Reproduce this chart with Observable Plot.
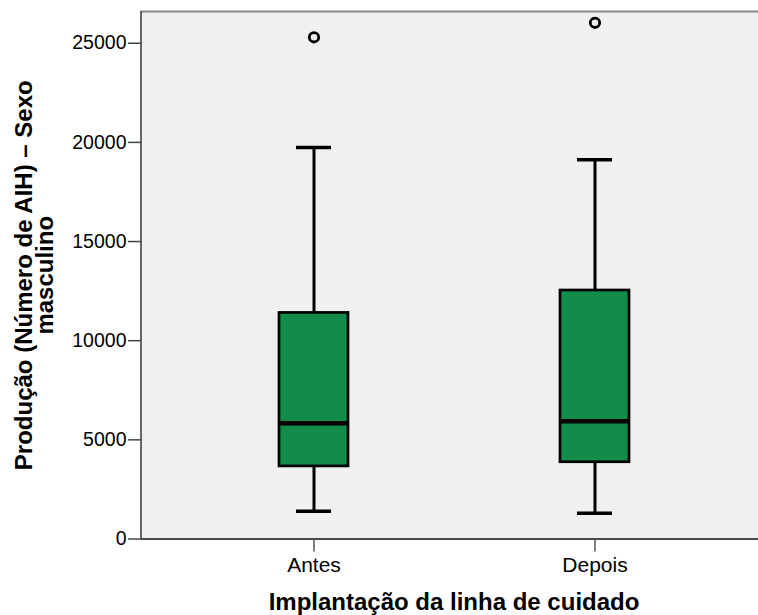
<!DOCTYPE html>
<html>
<head>
<meta charset="utf-8">
<script src="https://cdn.jsdelivr.net/npm/d3@7"></script>
<script src="https://cdn.jsdelivr.net/npm/@observablehq/plot@0.6"></script>
<style>
  html, body { margin: 0; padding: 0; background: #fff; overflow: hidden; }
  #chart svg { display: block; }
</style>
</head>
<body>
<div id="chart"></div>
<script>
// ---- data ----
const groups = ["Antes", "Depois"];
const lowerWhisker = [1400, 1300];
const q1 = [3660, 3870];
const median = [5840, 5940];
const q3 = [11400, 12530];
const upperWhisker = [19740, 19120];
const outlierGroup = ["Antes", "Depois"];
const outlierValue = [25300, 26030];
const yTicks = [0, 5000, 10000, 15000, 20000, 25000];
const yMax = 26600;
const xTitle = "Implantação da linha de cuidado";
const yTitle = "Produção (Número de AIH) – Sexo\nmasculino";

const boxes = groups.map((g, i) => ({
  group: g, lo: lowerWhisker[i], q1: q1[i], med: median[i], q3: q3[i], hi: upperWhisker[i]
}));
const outliers = outlierGroup.map((g, i) => ({group: g, value: outlierValue[i]}));

const font = "'Liberation Sans', Arial, Helvetica, sans-serif";
const green = "#118c4b";
const W = 758, mL = 141;

const chart = Plot.plot({
  width: W,
  height: 615,
  marginTop: 11,
  marginLeft: mL,
  marginRight: 0,
  marginBottom: 76.5,
  style: {background: "#ffffff", fontFamily: font, color: "#000"},
  x: {type: "band", domain: groups, range: [279, 629.3], paddingInner: 0.7547, paddingOuter: 0, axis: null},
  y: {domain: [0, yMax], axis: null},
  marks: [
    Plot.frame({fill: "#f0f0f0", stroke: "none"}),
    // top border, bottom axis line, left axis line
    Plot.ruleY([yMax], {stroke: "#8a8a8a", strokeWidth: 2.2}),
    Plot.ruleY([0], {stroke: "#4a4a4a", strokeWidth: 2}),
    Plot.rect([0], {y1: 0, y2: yMax, fill: "#444", insetLeft: -0.8, insetRight: (W - mL) - 0.8}),
    Plot.axisY({ticks: yTicks, tickSize: 13, tickPadding: 2, fontSize: 19.5, stroke: "#444", strokeWidth: 1.5, fill: "#000", tickFormat: d => String(d), label: null}),
    Plot.axisX({tickSize: 13, tickPadding: 5, fontSize: 21, stroke: "#555", strokeWidth: 1.5, fill: "#000", label: null}),
    // whiskers
    Plot.ruleX(boxes, {x: "group", y1: "q3", y2: "hi", stroke: "#000", strokeWidth: 3}),
    Plot.ruleX(boxes, {x: "group", y1: "lo", y2: "q1", stroke: "#000", strokeWidth: 3}),
    Plot.tickY(boxes, {x: "group", y: "hi", stroke: "#000", strokeWidth: 3.5, insetLeft: 17, insetRight: 17}),
    Plot.tickY(boxes, {x: "group", y: "lo", stroke: "#000", strokeWidth: 3.5, insetLeft: 17, insetRight: 17}),
    // boxes
    Plot.barY(boxes, {x: "group", y1: "q1", y2: "q3", fill: green, stroke: "#000", strokeWidth: 2.7}),
    Plot.tickY(boxes, {x: "group", y: "med", stroke: "#000", strokeWidth: 4.5}),
    // outliers
    Plot.dot(outliers, {x: "group", y: "value", r: 4.7, stroke: "#000", strokeWidth: 2.8, fill: "none"}),
    // axis titles
    Plot.text([yTitle], {text: d => d, frameAnchor: "left", rotate: -90, dx: -105.7, lineAnchor: "middle", textAnchor: "middle", lineHeight: 0.875, fontSize: 24, fontWeight: "bold", fill: "#000"}),
    Plot.text([xTitle], {text: d => d, frameAnchor: "bottom", dx: 4, dy: 63.8, lineAnchor: "middle", textAnchor: "middle", fontSize: 24, fontWeight: "bold", fill: "#000"})
  ]
});
document.getElementById("chart").appendChild(chart);
</script>
</body>
</html>
